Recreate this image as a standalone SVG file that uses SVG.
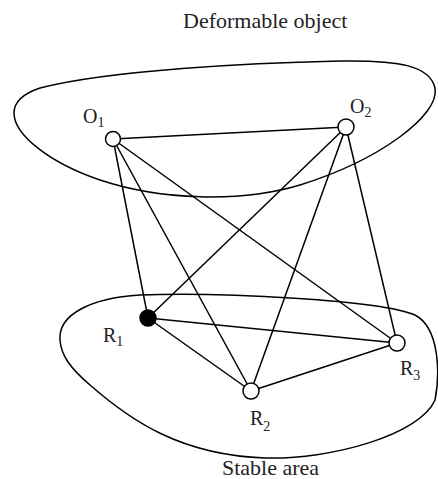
<svg xmlns="http://www.w3.org/2000/svg" width="438" height="479" viewBox="0 0 438 479">
<style>
.blob{fill:none;stroke:#000;stroke-width:1.5}
.edge{stroke:#000;stroke-width:1.5}
.node{fill:#fff;stroke:#000;stroke-width:1.5}
.fixed{fill:#000;stroke:#000;stroke-width:1.5}
text{font-family:"Liberation Serif","Times New Roman",serif;fill:#222}
.title{font-size:22px}
.lbl{font-size:20px}
.sub{font-size:14px}
</style>
<rect width="438" height="479" fill="#fff"/>
<g id="regions">
<path class="blob" d="M 14,113 C 14,102 22,94 40,88 C 110,70 250,63 340,61 C 400,60 430,66 435,88 C 440,115 380,160 300,185 C 240,203 160,200 100,180 C 50,163 14,135 14,113 Z"/>
<path class="blob" d="M 60,340 C 58,315 90,298 140,295 C 220,292 380,300 415,315 C 440,328 440,375 435,400 C 420,435 330,460 265,458 C 180,455 130,420 90,385 C 70,368 61,355 60,340 Z"/>
</g>
<g id="connectors">
<line class="edge" x1="113" y1="139" x2="346" y2="127"/>
<line class="edge" x1="113" y1="139" x2="148" y2="318"/>
<line class="edge" x1="113" y1="139" x2="251" y2="391"/>
<line class="edge" x1="113" y1="139" x2="397" y2="343"/>
<line class="edge" x1="346" y1="127" x2="148" y2="318"/>
<line class="edge" x1="346" y1="127" x2="251" y2="391"/>
<line class="edge" x1="346" y1="127" x2="397" y2="343"/>
<line class="edge" x1="148" y1="318" x2="251" y2="391"/>
<line class="edge" x1="148" y1="318" x2="397" y2="343"/>
<line class="edge" x1="251" y1="391" x2="397" y2="343"/>
</g>
<g id="O1"><circle class="node" cx="113" cy="139" r="7.5"/><text class="lbl" x="83" y="123">O<tspan class="sub" dy="4">1</tspan></text></g>
<g id="O2"><circle class="node" cx="346" cy="127" r="8"/><text class="lbl" x="350" y="113">O<tspan class="sub" dy="4">2</tspan></text></g>
<g id="R1"><circle class="fixed" cx="148" cy="318" r="8"/><text class="lbl" x="103" y="342">R<tspan class="sub" dy="4">1</tspan></text></g>
<g id="R2"><circle class="node" cx="251" cy="391" r="8"/><text class="lbl" x="250" y="425">R<tspan class="sub" dy="6">2</tspan></text></g>
<g id="R3"><circle class="node" cx="397" cy="343" r="8"/><text class="lbl" x="400" y="375">R<tspan class="sub" dy="5">3</tspan></text></g>
<g id="titles">
<text class="title" x="183" y="28">Deformable object</text>
<text class="title" x="222" y="475">Stable area</text>
</g>
</svg>
